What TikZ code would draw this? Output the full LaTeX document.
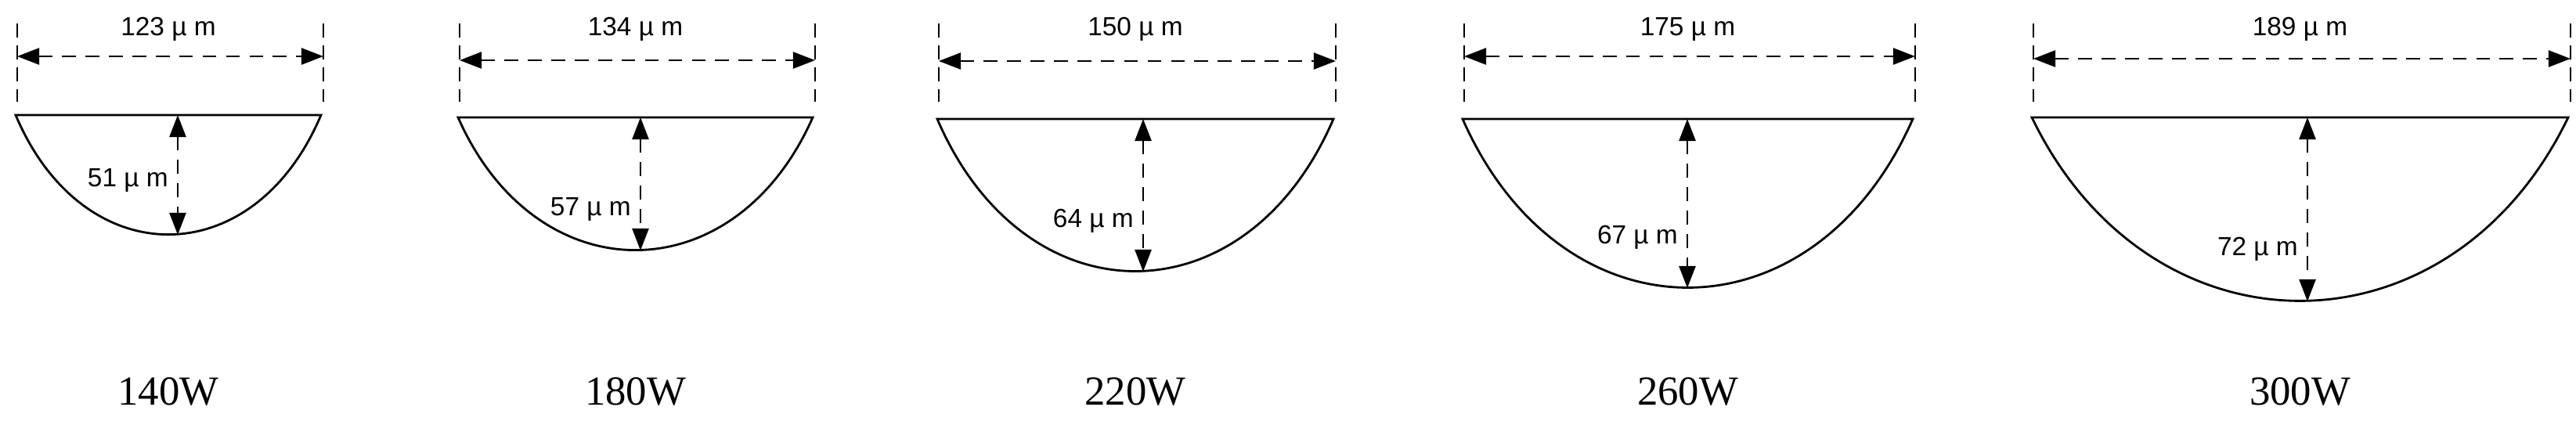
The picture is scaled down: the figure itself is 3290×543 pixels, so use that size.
\documentclass[tikz,border=0pt]{standalone}
\usepackage{fontspec}
\setmainfont{Liberation Serif}
\newfontfamily\dimfont{Liberation Sans}
\usetikzlibrary{arrows.meta}

\begin{document}
\begin{tikzpicture}[x=0.01cm, y=-0.01cm,
    dimline/.style={dashed, dash pattern=on 5pt off 3.5pt, line width=0.7pt, {Triangle[length=8pt,width=6pt]}-{Triangle[length=8pt,width=6pt]}},
    extline/.style={dashed, dash pattern=on 5pt off 3pt, line width=0.7pt},
    dimlabel/.style={font=\dimfont\fontsize{9.5}{11}\selectfont, inner sep=1pt},
    powerlabel/.style={font=\fontsize{15}{17}\selectfont}]
    \useasboundingbox (0, 0) rectangle (3290, 543);

    % one weld bead per laser power
    \foreach \L/\R/\T/\B/\cx/\ay/\wval/\dval/\pw/\ly [count=\i] in
	{20/410/147/300/227/72/123/51/140/230,
	 585/1038/150/320/818/77/134/57/180/267,
	 1197/1703/152/347/1460/78/150/64/220/282,
	 1868/2443/152/368/2155/72/175/67/260/303,
	 2595/3280/150/385/2947/75/189/72/300/318}
    {
	\coordinate (tl\i) at (\L, \T);
	\coordinate (tr\i) at (\R, \T);
	\coordinate (top\i) at (\cx, \T);
	\coordinate (bot\i) at (\cx, \B);
	\draw[line width=0.8pt] (tl\i) -- (tr\i)
	    .. controls ({\R-0.22*(\R-\L)}, {\T+1.33*(\B-\T)})
	    and ({\L+0.22*(\R-\L)}, {\T+1.33*(\B-\T)}) .. cycle;

	\coordinate (el\i) at (\L+2, 30);
	\coordinate (er\i) at (\R+3, 30);
	\coordinate (al\i) at (\L+2, \ay);
	\coordinate (ar\i) at (\R+3, \ay);
	\draw[extline] (el\i) -- (\L+2, 130);
	\draw[extline] (er\i) -- (\R+3, 130);
	\draw[dimline] (al\i) -- (ar\i);
	\node[dimlabel] (w\i) at ({(\L+\R)/2}, 37) {\wval\ µ\ m};

	\draw[dimline] (top\i) -- (bot\i);
	\node[dimlabel, anchor=east] (d\i) at (\cx-8, \ly) {\dval\ µ\ m};

	\node[powerlabel] (p\i) at ({(\L+\R)/2}, 500) {\pw W};
    }
\end{tikzpicture}
\end{document}
